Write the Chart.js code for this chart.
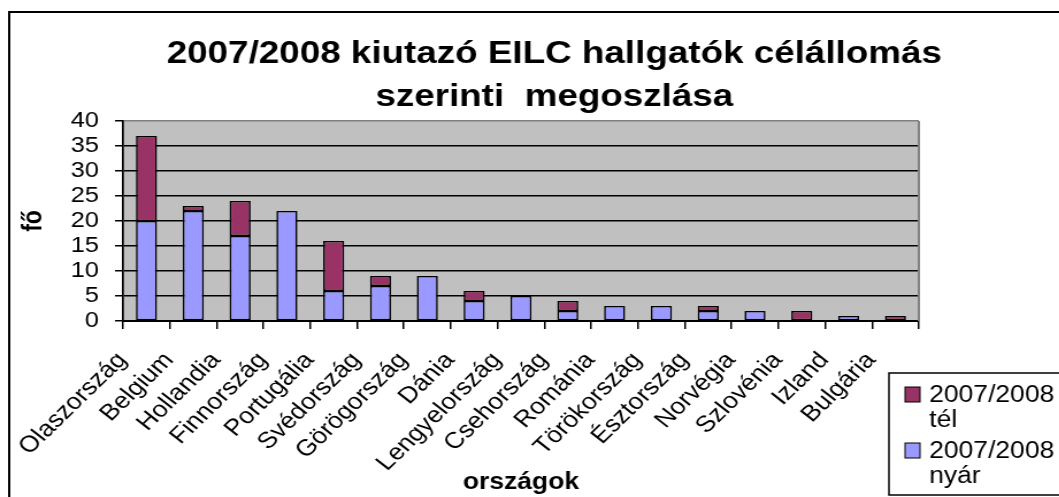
<!DOCTYPE html>
<html>
<head>
<meta charset="utf-8">
<script src="https://cdn.jsdelivr.net/npm/chart.js"></script>
<style>
	body { margin: 0; background: #fff; overflow: hidden; }
	#wrap { width: 921px; height: 497px; transform: scaleX(1.15); transform-origin: 0 0; }
</style>
</head>
<body>
<div id="wrap"><canvas id="eilcChart" width="921" height="497"></canvas></div>
<script>
	// országok (x tengely)
	let categories = ['Olaszország', 'Belgium', 'Hollandia', 'Finnország', 'Portugália', 'Svédország',
		'Görögország', 'Dánia', 'Lengyelország', 'Csehország', 'Románia', 'Törökország',
		'Észtország', 'Norvégia', 'Szlovénia', 'Izland', 'Bulgária'];
	// nyári és téli létszám (fő), üres = nincs adat
	let nyarValues = [20, 22, 17, 22, 6, 7, 9, 4, 5, 2, 3, 3, 2, 2, null, 1, null];
	let telValues = [17, 1, 7, null, 10, 2, null, 2, null, 2, null, null, 1, null, 2, null, 1];
	let seriesNames = ['2007/2008 nyár', '2007/2008 tél'];
	let yTicks = [0, 5, 10, 15, 20, 25, 30, 35, 40];
	let titleLines = ['2007/2008 kiutazó EILC hallgatók célállomás', 'szerinti  megoszlása'];

	Chart.defaults.font.family = '"Liberation Sans", Arial, sans-serif';
	Chart.defaults.color = '#000';

	// szürke rajzterület, keret, cím, jelmagyarázat
	let excelLook = {
		id: 'excelLook',
		beforeDraw: function(chart) {
			let ctx = chart.ctx;
			let a = chart.chartArea;
			ctx.save();
			ctx.fillStyle = '#fff';
			ctx.fillRect(0, 0, chart.width, chart.height);
			ctx.strokeStyle = '#000';
			ctx.lineWidth = 2;
			ctx.strokeRect(8, 12, chart.width + 20, chart.height + 20);
			ctx.fillStyle = '#c0c0c0';
			ctx.fillRect(a.left, a.top, a.right - a.left, a.bottom - a.top);
			ctx.restore();
		},
		beforeDatasetsDraw: function(chart) {
			let ctx = chart.ctx;
			let a = chart.chartArea;
			ctx.save();
			ctx.strokeStyle = '#808080';
			ctx.lineWidth = 2;
			ctx.beginPath();
			ctx.moveTo(a.right, a.top);
			ctx.lineTo(a.right, a.bottom);
			ctx.stroke();
			ctx.restore();
		},
		afterDraw: function(chart) {
			let ctx = chart.ctx;
			ctx.save();
			// cím
			ctx.fillStyle = '#000';
			ctx.textAlign = 'center';
			ctx.textBaseline = 'alphabetic';
			ctx.font = 'bold 32px "Liberation Sans", Arial, sans-serif';
			ctx.fillText(titleLines[0], 482, 63);
			ctx.fillText(titleLines[1], 482, 106);

			// jelmagyarázat (fordított sorrend, mint az Excelben)
			ctx.strokeStyle = '#000';
			ctx.lineWidth = 1.5;
			ctx.strokeRect(773, 373, 200, 122);
			ctx.font = '23px "Liberation Sans", Arial, sans-serif';
			ctx.textAlign = 'left';
			let items = chart.data.datasets.slice().reverse();
			items.forEach(function(ds, i) {
				let top = 387 + i * 56;
				ctx.fillStyle = ds.backgroundColor;
				ctx.fillRect(787, top, 13, 15);
				ctx.lineWidth = 1;
				ctx.strokeRect(787, top, 13, 15);
				let parts = ds.label.split(' ');
				ctx.fillStyle = '#000';
				ctx.fillText(parts[0], 808, top + 15);
				ctx.fillText(parts[1], 808, top + 40);
			});
			ctx.restore();
		}
	};

	let ctx = document.getElementById('eilcChart').getContext('2d');
	let eilcChart = new Chart(ctx, {
		type: 'bar',
		data: {
			labels: categories,
			datasets: [
				{
					label: seriesNames[0],
					data: nyarValues,
					backgroundColor: '#9999ff',
					borderColor: '#000',
					borderWidth: 1.6,
					borderSkipped: false
				},
				{
					label: seriesNames[1],
					data: telValues,
					backgroundColor: '#993366',
					borderColor: '#000',
					borderWidth: 1.6,
					borderSkipped: false
				}
			]
		},
		options: {
			responsive: false,
			animation: false,
			devicePixelRatio: 1,
			layout: {
				padding: { left: 8, right: 122, top: 121, bottom: 0 }
			},
			datasets: {
				bar: { barPercentage: 0.45, categoryPercentage: 1 }
			},
			plugins: {
				legend: { display: false },
				tooltip: { enabled: false },
				title: { display: false }
			},
			scales: {
				x: {
					stacked: true,
					afterFit: function(scale) { scale.height = 176; },
					grid: {
						display: true,
						drawOnChartArea: false,
						offset: true,
						color: '#000',
						lineWidth: 1.5,
						tickLength: 8
					},
					border: { display: true, color: '#000', width: 2 },
					ticks: {
						autoSkip: false,
						maxRotation: 48,
						minRotation: 48,
						padding: 18,
						labelOffset: -21,
						font: { size: 23 }
					},
					title: {
						display: true,
						text: 'országok',
						font: { size: 23, weight: 'bold' },
						padding: { top: 0, bottom: 1 }
					}
				},
				y: {
					stacked: true,
					min: yTicks[0],
					max: yTicks[yTicks.length - 1],
					afterFit: function(scale) { scale.width = 99; },
					afterBuildTicks: function(scale) {
						scale.ticks = yTicks.map(function(v) { return { value: v }; });
					},
					grid: {
						color: function(c) { return c.tick && c.tick.value === 40 ? '#808080' : '#000'; },
						tickColor: '#000',
						lineWidth: 1.5,
						tickLength: 7
					},
					border: { display: true, color: '#000', width: 1.7 },
					ticks: {
						autoSkip: false,
						padding: 14,
						font: { size: 22, lineHeight: 1 }
					},
					title: {
						display: true,
						text: 'fő',
						font: { size: 23, weight: 'bold' },
						padding: { top: 8, bottom: 0 }
					}
				}
			}
		},
		plugins: [excelLook]
	});
</script>
</body>
</html>
